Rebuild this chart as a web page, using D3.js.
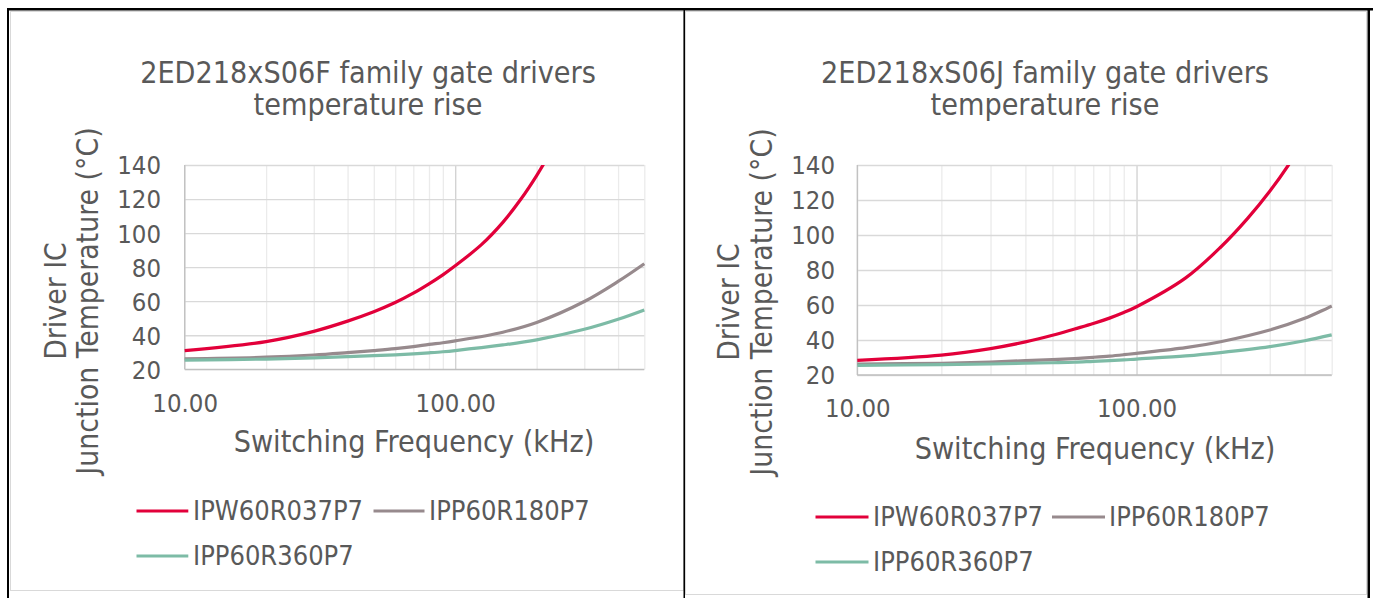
<!DOCTYPE html>
<html><head><meta charset="utf-8">
<script src="https://cdn.jsdelivr.net/npm/d3@7"></script>
<style>
html,body{margin:0;padding:0;background:#fff;}
svg{display:block;}
text{font-family:'DejaVu Sans Condensed','DejaVu Sans',sans-serif;font-stretch:condensed;fill:#595959;}
</style></head><body>
<svg id="chart" width="1373" height="598"></svg>
<script>
// ---------- data ----------
const seriesNames = ["IPW60R037P7", "IPP60R180P7", "IPP60R360P7"];
const seriesColors = ["#E2003A", "#978A8D", "#7DBBA6"];
const yTicks = [20, 40, 60, 80, 100, 120, 140];
const xTickValues = [10, 100];
const xGridValues = [10, 20, 30, 40, 50, 60, 70, 80, 90, 100, 200, 300, 400, 500];
const titlesF = ["2ED218xS06F family gate drivers", "temperature rise"];
const titlesJ = ["2ED218xS06J family gate drivers", "temperature rise"];
const xAxisTitle = "Switching Frequency (kHz)";
const yAxisTitle = ["Driver IC", "Junction Temperature (°C)"];

// 2ED218xS06F
const freqF_IPW = [10, 20, 30, 40, 50, 60, 70, 80, 90, 100, 125, 150, 175, 200, 225];
const tempF_IPW = [31.0, 36.3, 42.3, 48.3, 53.8, 59.2, 64.7, 70.2, 75.5, 80.8, 93.2, 106.3, 120.0, 133.8, 147.5];
const freqF_IPP = [10, 20, 30, 40, 50, 60, 70, 80, 90, 100, 150, 200, 300, 400, 500];
const tempF_IPP180 = [26.2, 27.1, 28.4, 29.8, 31.0, 32.1, 33.3, 34.6, 35.6, 36.7, 41.8, 47.5, 59.8, 71.6, 82.0];
const tempF_IPP360 = [25.4, 26.0, 26.7, 27.4, 28.0, 28.5, 29.1, 29.7, 30.3, 31.0, 34.3, 37.3, 43.5, 49.4, 54.9];

// 2ED218xS06J
const freqJ_IPW = [10, 20, 30, 40, 50, 60, 70, 80, 90, 100, 150, 200, 250, 300, 350, 400];
const tempJ_IPW = [28.4, 31.4, 35.1, 38.9, 42.7, 46.3, 49.4, 52.5, 55.7, 59.0, 75.5, 93.0, 109.5, 125.0, 140.0, 155.0];
const freqJ_IPP = [10, 20, 30, 40, 50, 60, 70, 80, 90, 100, 150, 200, 300, 400, 500];
const tempJ_IPP180 = [26.3, 26.7, 27.4, 28.2, 28.8, 29.4, 30.1, 30.8, 31.6, 32.4, 35.6, 39.0, 45.7, 52.4, 59.4];
const tempJ_IPP360 = [25.5, 25.9, 26.3, 26.7, 27.0, 27.3, 27.8, 28.2, 28.6, 29.1, 30.9, 32.8, 36.2, 39.6, 42.9];

// ---------- layout (styling only) ----------
const panels = [
  {
    titles: titlesF,
    series: [
      {f: freqF_IPW, t: tempF_IPW},
      {f: freqF_IPP, t: tempF_IPP180},
      {f: freqF_IPP, t: tempF_IPP360}
    ],
    box: {x: 10.5, y: 11.5, w: 673, h: 579},
    plot: {x0: 184.7, x1: 644.3, y0: 165, y1: 369.3},
    titleX: 368, titleY: [72, 104],
    yTickRight: 161, xTickDy: 34,
    xTitle: {x: 414, y: 441},
    yTitle: {x: [56, 88], y: 301},
    legend: {rows: [511, 556], items: [
      {row: 0, x0: 136.5, x1: 188.3, tx: 193},
      {row: 0, x0: 373.5, x1: 424.5, tx: 429},
      {row: 1, x0: 136.5, x1: 188.3, tx: 193}
    ]}
  },
  {
    titles: titlesJ,
    series: [
      {f: freqJ_IPW, t: tempJ_IPW},
      {f: freqJ_IPP, t: tempJ_IPP180},
      {f: freqJ_IPP, t: tempJ_IPP360}
    ],
    box: {x: 685.5, y: 11.5, w: 681, h: 583},
    plot: {x0: 857.3, x1: 1331.7, y0: 165, y1: 375},
    titleX: 1045, titleY: [72, 104],
    yTickRight: 835, xTickDy: 33,
    xTitle: {x: 1095, y: 448},
    yTitle: {x: [729, 762], y: 302},
    legend: {rows: [517, 562], items: [
      {row: 0, x0: 815.5, x1: 868.5, tx: 873},
      {row: 0, x0: 1052, x1: 1105, tx: 1109},
      {row: 1, x0: 815.5, x1: 868.5, tx: 873}
    ]}
  }
];

const svg = d3.select("#chart");
svg.append("rect").attr("x", 0).attr("y", 0).attr("width", 1373).attr("height", 598).attr("fill", "#fff");

panels.forEach((p, pi) => {
  const g = svg.append("g");
  g.append("rect").attr("x", p.box.x).attr("y", p.box.y).attr("width", p.box.w).attr("height", p.box.h)
    .attr("fill", "#fff").attr("stroke", "#d9d9d9").attr("stroke-width", 1);

  const x = d3.scaleLog().domain([10, 500]).range([p.plot.x0, p.plot.x1]);
  const y = d3.scaleLinear().domain([20, 140]).range([p.plot.y1, p.plot.y0]);
  const W = p.plot.x1 - p.plot.x0, H = p.plot.y1 - p.plot.y0;

  p.titles.forEach((t, i) => {
    g.append("text").attr("x", p.titleX).attr("y", p.titleY[i]).attr("dy", "0.35em")
      .attr("text-anchor", "middle").style("font-size", "30.2px").text(t);
  });

  const xg = g.append("g").attr("transform", `translate(0,${p.plot.y1})`)
    .call(d3.axisBottom(x).tickValues(xGridValues).tickSize(-H).tickFormat(""));
  xg.select(".domain").remove();
  xg.selectAll(".tick line").attr("stroke", d => (d === 100 ? "#d0d0d0" : "#ebebeb")).attr("stroke-width", 1.3);

  const yg = g.append("g").attr("transform", `translate(${p.plot.x0},0)`)
    .call(d3.axisLeft(y).tickValues(yTicks).tickSize(-W).tickFormat(""));
  yg.select(".domain").remove();
  yg.selectAll(".tick line").attr("stroke", "#d9d9d9").attr("stroke-width", 1.3);

  g.append("line").attr("x1", p.plot.x0).attr("x2", p.plot.x1).attr("y1", p.plot.y1).attr("y2", p.plot.y1)
    .attr("stroke", "#bfbfbf").attr("stroke-width", 1.3);
  g.append("line").attr("x1", p.plot.x0).attr("x2", p.plot.x0).attr("y1", p.plot.y0).attr("y2", p.plot.y1)
    .attr("stroke", "#bfbfbf").attr("stroke-width", 1.3);

  const ya = g.append("g").attr("transform", `translate(${p.yTickRight},0)`)
    .call(d3.axisLeft(y).tickValues(yTicks).tickSize(0).tickPadding(0));
  ya.select(".domain").remove();
  ya.selectAll("text").attr("dy", "0.35em").style("font-size", "25.5px").style("font-family", null).attr("fill", "#595959");

  const xa = g.append("g").attr("transform", `translate(0,${p.plot.y1})`)
    .call(d3.axisBottom(x).tickValues(xTickValues).tickSize(0).tickFormat(d3.format(".2f")));
  xa.select(".domain").remove();
  xa.selectAll("text").attr("y", p.xTickDy).attr("dy", "0.35em").style("font-size", "25.5px").style("font-family", null).attr("fill", "#595959");

  g.append("text").attr("x", p.xTitle.x).attr("y", p.xTitle.y).attr("dy", "0.35em")
    .attr("text-anchor", "middle").style("font-size", "30.2px").text(xAxisTitle);
  yAxisTitle.forEach((t, i) => {
    g.append("text").attr("transform", `translate(${p.yTitle.x[i]},${p.yTitle.y}) rotate(-90)`)
      .attr("dy", "0.35em").attr("text-anchor", "middle").style("font-size", "29.8px").text(t);
  });

  const clipId = "clip" + pi;
  g.append("clipPath").attr("id", clipId).append("rect")
    .attr("x", p.plot.x0 - 2).attr("y", p.plot.y0).attr("width", W + 4).attr("height", H + 2);
  const line = d3.line().x(d => x(d[0])).y(d => y(d[1])).curve(d3.curveCatmullRom.alpha(0.5));
  const lg = g.append("g").attr("clip-path", `url(#${clipId})`);
  [1, 2, 0].forEach(si => {
    const s = p.series[si];
    const pts = s.f.map((f, i) => [f, s.t[i]]);
    lg.append("path").datum(pts).attr("d", line).attr("fill", "none")
      .attr("stroke", seriesColors[si]).attr("stroke-width", 3.2).attr("stroke-linejoin", "round");
  });

  p.legend.items.forEach((it, si) => {
    const yy = p.legend.rows[it.row];
    g.append("line").attr("x1", it.x0).attr("x2", it.x1).attr("y1", yy).attr("y2", yy)
      .attr("stroke", seriesColors[si]).attr("stroke-width", 3.2);
    g.append("text").attr("x", it.tx).attr("y", yy).attr("dy", "0.35em").style("font-size", "27px").text(seriesNames[si]);
  });
});

// black frame lines
svg.append("rect").attr("x", 7).attr("y", 8).attr("width", 1366).attr("height", 2.5).attr("fill", "#000");
svg.append("rect").attr("x", 7).attr("y", 8).attr("width", 2).attr("height", 590).attr("fill", "#000");
svg.append("rect").attr("x", 683.5).attr("y", 8).attr("width", 1.5).attr("height", 590).attr("fill", "#000");
svg.append("rect").attr("x", 1367.5).attr("y", 8).attr("width", 2.5).attr("height", 590).attr("fill", "#000");
</script>
</body></html>
